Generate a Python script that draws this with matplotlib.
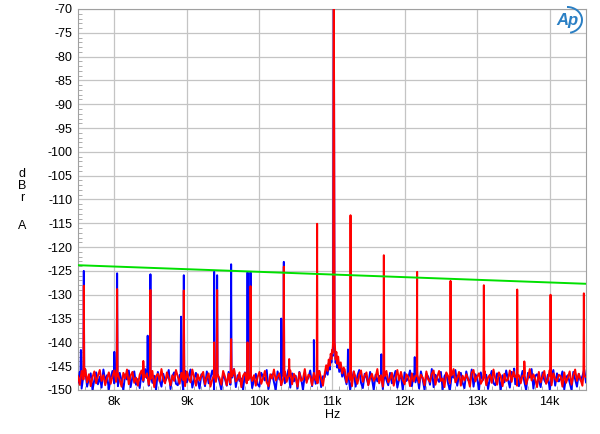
import numpy as np
import matplotlib
matplotlib.use("Agg")
import matplotlib.pyplot as plt
from matplotlib.patches import Arc
from matplotlib.ticker import MultipleLocator, FuncFormatter

plt.rcParams['font.family'] = ['Liberation Sans', 'DejaVu Sans']

# noise floor, one reading every 25 Hz from 7.5 kHz to 14.5 kHz
noise_f = np.arange(7500, 14501, 25)
red_noise = [
    -147.1, -148.9, -146.0, -147.8, -145.6, -148.4, -146.7, -149.2, -147.3, -146.1,
    -148.6, -147.0, -145.8, -148.1, -146.9, -149.0, -147.5, -146.3, -148.7, -147.2,
    -145.9, -148.3, -146.6, -147.9, -149.3, -146.4, -147.6, -145.7, -148.8, -147.0,
    -146.2, -148.5, -147.4, -149.1, -146.8, -145.9, -148.0, -147.3, -146.5, -148.9,
    -147.7, -146.0, -149.4, -147.1, -146.6, -148.2, -145.6, -147.8, -148.6, -146.3,
    -147.5, -149.0, -146.9, -148.1, -145.8, -147.2, -148.7, -146.4, -147.9, -149.2,
    -146.1, -147.6, -148.4, -145.7, -147.3, -149.1, -146.7, -148.0, -147.0, -146.2,
    -148.8, -147.4, -146.5, -149.3, -147.8, -145.9, -148.3, -146.8, -147.5, -148.9,
    -146.0, -147.2, -149.0, -146.6, -148.5, -147.1, -145.6, -148.2, -147.7, -146.3,
    -149.4, -147.0, -146.4, -148.6, -147.9, -145.8, -148.1, -146.9, -149.1, -147.3,
    -146.2, -148.7, -147.5, -146.0, -148.4, -149.2, -146.7, -147.6, -145.7, -148.0,
    -147.2, -146.5, -149.0, -147.8, -146.1, -148.3, -147.0, -145.9, -148.8, -146.6,
    -147.4, -149.3, -146.3, -148.1, -147.7, -145.6, -148.5, -146.8, -147.1, -149.0,
    -146.4, -147.9, -148.6, -146.0, -147.5, -149.1, -146.9, -148.2, -145.8, -147.3,
    -148.9, -146.2, -147.6, -149.4, -146.7, -148.0, -147.2, -145.7, -148.4, -146.5,
    -147.8, -149.2, -146.1, -147.4, -148.7, -146.8, -145.9, -148.3, -147.0, -146.3,
    -149.0, -147.6, -146.6, -148.1, -147.3, -145.6, -148.6, -146.9, -149.3, -147.1,
    -146.0, -148.4, -147.7, -146.4, -149.1, -147.5, -145.8, -148.0, -146.2, -147.9,
    -148.8, -146.7, -147.2, -149.2, -146.5, -148.2, -147.0, -145.7, -148.5, -146.8,
    -147.4, -149.0, -146.1, -147.8, -148.3, -146.6, -145.9, -148.9, -147.3, -146.0,
    -148.1, -147.6, -149.4, -146.3, -147.1, -148.6, -146.9, -145.6, -148.4, -147.5,
    -146.2, -149.1, -147.0, -148.0, -146.7, -147.7, -149.3, -146.4, -145.8, -148.2,
    -147.2, -146.5, -148.7, -147.9, -146.0, -149.0, -147.4, -146.8, -148.5, -145.7,
    -147.6, -148.9, -146.3, -147.1, -149.2, -146.6, -148.1, -147.8, -145.9, -148.3,
    -146.1, -147.3, -149.1, -146.9, -148.6, -147.0, -146.4, -148.8, -147.5, -145.6,
    -148.0, -146.7, -147.7, -149.4, -146.2, -148.4, -147.2, -146.0, -148.7, -147.9,
    -145.8, -149.0, -146.5, -147.6, -148.2, -146.8, -147.1, -149.3, -146.3, -148.5,
    -147.4, -146.1, -148.9, -147.0, -145.7, -148.1, -146.6, -147.8, -149.1, -146.9,
    -147.3]
blue_noise = [
    -148.4, -146.2, -149.7, -147.0, -145.8, -149.3, -147.6, -146.5, -150.0, -147.9,
    -146.3, -148.8, -147.2, -149.5, -145.7, -148.1, -146.9, -149.9, -147.4, -146.0,
    -148.6, -147.1, -149.2, -146.4, -148.0, -150.0, -146.7, -147.8, -145.9, -149.4,
    -147.3, -146.1, -148.9, -147.7, -149.6, -146.5, -148.3, -145.6, -147.5, -149.1,
    -146.8, -148.5, -147.0, -150.0, -146.2, -147.9, -149.3, -146.6, -148.2, -147.4,
    -145.8, -149.8, -147.1, -146.3, -148.7, -149.0, -146.9, -147.6, -150.0, -146.0,
    -148.4, -147.2, -145.7, -149.5, -147.8, -146.4, -148.0, -149.7, -146.7, -147.3,
    -149.2, -146.1, -148.6, -147.5, -145.9, -149.9, -147.0, -146.8, -148.3, -150.0,
    -146.5, -147.7, -149.1, -146.2, -148.9, -147.4, -145.6, -149.4, -146.9, -148.1,
    -147.6, -150.0, -146.3, -148.5, -147.1, -146.0, -149.6, -147.9, -146.6, -148.8,
    -149.3, -146.4, -147.2, -148.0, -145.8, -149.8, -147.5, -146.7, -148.4, -150.0,
    -146.1, -147.8, -149.0, -146.9, -148.6, -147.3, -145.7, -149.5, -146.5, -148.2,
    -147.0, -149.7, -146.2, -147.6, -150.0, -146.8, -148.1, -147.4, -145.9, -149.2,
    -146.6, -148.7, -147.9, -146.0, -149.4, -147.1, -148.3, -150.0, -146.4, -147.7,
    -145.6, -149.1, -146.9, -148.0, -147.5, -149.9, -146.3, -147.2, -148.8, -146.7,
    -150.0, -147.8, -146.1, -149.3, -147.0, -145.8, -148.5, -149.6, -146.6, -147.4,
    -148.9, -146.2, -147.6, -150.0, -146.8, -148.2, -147.1, -145.7, -149.8, -146.5,
    -147.9, -149.0, -146.4, -148.6, -147.3, -146.0, -149.5, -147.7, -146.9, -150.0,
    -146.3, -148.1, -147.5, -145.9, -149.2, -146.7, -148.4, -147.0, -149.7, -146.1,
    -147.8, -150.0, -146.6, -147.2, -148.9, -145.6, -149.4, -146.8, -147.6, -148.3,
    -146.2, -149.9, -147.1, -146.5, -148.7, -150.0, -146.9, -147.4, -145.8, -149.1,
    -147.0, -146.4, -148.5, -149.6, -146.1, -147.9, -148.2, -145.7, -149.3, -146.7,
    -147.5, -150.0, -146.3, -148.0, -147.2, -146.8, -149.8, -147.6, -146.0, -148.6,
    -149.0, -146.5, -147.3, -150.0, -146.9, -148.4, -145.9, -147.8, -149.5, -146.2,
    -147.1, -148.8, -146.6, -149.2, -147.7, -146.0, -148.3, -150.0, -146.4, -147.4,
    -145.6, -149.7, -147.0, -146.7, -148.1, -149.4, -146.3, -147.9, -148.6, -146.8,
    -150.0, -147.2, -145.8, -149.1, -146.5, -148.2, -147.6, -146.1, -149.9, -147.3,
    -146.9, -148.5, -150.0, -146.2, -147.8, -149.3, -146.6, -148.0, -147.1, -145.7,
    -148.4]

# skirt around the 11.025 kHz tone
skirt_f = [10900, 10920, 10940, 10955, 10970, 10982, 10992, 11000, 11008, 11015, 11025,
           11035, 11042, 11050, 11060, 11072, 11085, 11100, 11120, 11140, 11160]
red_skirt = [-146.5, -144.8, -146.0, -143.6, -144.9, -142.4, -143.5, -141.6, -142.2, -139.5, -60.0,
             -139.8, -141.2, -143.6, -142.0, -144.5, -143.0, -145.4, -144.2, -146.5, -145.3]
blue_skirt = [-147.3, -145.6, -146.8, -144.4, -145.7, -143.1, -144.2, -142.3, -142.9, -140.2, -60.0,
              -140.5, -142.0, -144.3, -142.8, -145.3, -143.9, -146.2, -145.0, -147.2, -146.0]

# discrete spectral lines
red_spike_f = [7580, 8039, 8400, 8498, 8958, 9376, 9417, 9610, 9836, 9877, 10336, 10410,
               10795, 11255, 11714, 12173, 12633, 13092, 13552, 13650, 14011, 14470]
red_spike_db = [-128.1, -128.8, -143.9, -129.0, -129.1, -140.0, -129.0, -139.3, -140.0, -128.2, -124.1, -143.5,
                -115.1, -113.3, -121.7, -125.2, -127.1, -128.0, -128.9, -144.0, -130.0, -129.7]
blue_spike_f = [7540, 7580, 8000, 8039, 8460, 8498, 8920, 8958, 9376, 9417, 9610, 9836, 9877,
                10300, 10336, 10750, 11220, 11680, 12140, 13510]
blue_spike_db = [-141.6, -125.0, -142.0, -125.5, -138.6, -125.7, -134.6, -125.9, -125.2, -125.9, -123.6, -125.3, -125.3,
                 -135.0, -123.1, -139.5, -141.5, -142.5, -143.1, -145.5]
spike_base = -147.0

limit_f = [7500, 14500]
limit_db = [-123.8, -127.7]


def trace(noise, skirt, sp_f, sp_db):
    keep = [(a, b) for a, b in zip(noise_f, noise) if not (skirt_f[0] <= a <= skirt_f[-1])]
    pts = keep + list(zip(skirt_f, skirt))
    for sf, sd in zip(sp_f, sp_db):
        pts += [(sf - 6, spike_base), (sf, sd), (sf + 6, spike_base)]
    pts.sort()
    return [p[0] for p in pts], [p[1] for p in pts]


fig = plt.figure(figsize=(6.0, 4.34), dpi=100)
ax = fig.add_axes([0.130, 0.1014, 0.8467, 0.8779])

bf, bv = trace(blue_noise, blue_skirt, blue_spike_f, blue_spike_db)
rf, rv = trace(red_noise, red_skirt, red_spike_f, red_spike_db)
ax.plot(bf, bv, color='#0000ff', lw=1.4, zorder=3)
ax.plot(rf, rv, color='#ff0000', lw=1.4, zorder=4)
ax.plot(limit_f, limit_db, color='#00e000', lw=1.4, zorder=5)

ax.set_xlim(7500, 14500)
ax.set_ylim(-150, -70)
ax.xaxis.set_major_locator(MultipleLocator(1000))
ax.xaxis.set_minor_locator(MultipleLocator(100))
ax.yaxis.set_major_locator(MultipleLocator(5))
ax.yaxis.set_minor_locator(MultipleLocator(1))
ax.xaxis.set_major_formatter(FuncFormatter(lambda x, p: '%dk' % round(x / 1000)))
ax.yaxis.set_major_formatter(FuncFormatter(lambda y, p: '%d' % y))
ax.tick_params(which='both', direction='in', color='#a0a0a0', labelsize=9)
ax.tick_params(which='major', length=0, pad=4)
ax.tick_params(which='minor', length=3, width=0.6)
ax.grid(which='major', color='#c4c4c4', lw=0.9)
for s in ax.spines.values():
    s.set_color('#a0a0a0')

fig.text(333 / 600, 1 - 415 / 434, 'Hz', ha='center', va='center', fontsize=9)
for ch, yy in zip(['d', 'B', 'r', 'A'], [174, 186, 198, 226]):
    fig.text(22 / 600, 1 - yy / 434, ch, ha='center', va='center', fontsize=9)

# Ap logo
fig.text(567 / 600, 1 - 20 / 434, 'Ap', ha='center', va='center', fontsize=12,
         style='italic', fontweight='bold', color='#2a7fc4')
fig.add_artist(Arc((567 / 600, 1 - 20 / 434), 0.05, 0.06, theta1=-80, theta2=90,
                   transform=fig.transFigure, color='#2a7fc4', lw=1.4))

fig.savefig('out.png', dpi=100)
